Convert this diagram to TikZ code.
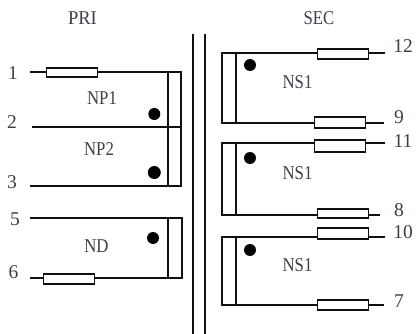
\documentclass[tikz,border=0pt]{standalone}
\usepackage{fontspec}
\setmainfont{Liberation Serif}
\definecolor{ink}{HTML}{111111}
\definecolor{txt}{HTML}{3A4048}
\tikzset{
  wire/.style={draw=ink,line width=1.45pt},
  corebar/.style={draw=ink,line width=1.5pt},
  res/.style={draw=ink,fill=white,line width=1.45pt,rectangle,inner sep=0pt,minimum width=50.5pt,minimum height=#1},
  res/.default=10pt,
  dotm/.style={circle,fill=black,inner sep=0pt,minimum size=12pt},
  lab/.style={text=txt,font=\fontsize{19.5}{20}\selectfont\addfontfeatures{FakeStretch=0.86},inner sep=0pt},
  pin/.style={text=txt,font=\fontsize{19.5}{20}\selectfont,inner sep=0pt}
}
\begin{document}
\begin{tikzpicture}[x=1pt,y=-1pt]
\useasboundingbox (0,0) rectangle (416,334);
% core
\coordinate (c1t) at (193,34); \coordinate (c1b) at (193,334);
\coordinate (c2t) at (205,34); \coordinate (c2b) at (205,334);
\draw[corebar] (c1t) -- (c1b);
\draw[corebar] (c2t) -- (c2b);
% --- primary ---
\coordinate (p1) at (30,72);  \coordinate (a1) at (168,72);  \coordinate (b1) at (181,72);
\coordinate (p2) at (32,127); \coordinate (a2) at (168,127); \coordinate (b2) at (181,127);
\coordinate (p3) at (30,186); \coordinate (a3) at (168,186); \coordinate (b3) at (181,186);
\draw[wire] (p1) -- (b1) -- (b3) -- (p3);
\draw[wire] (p2) -- (b2);
\draw[wire] (a1) -- (a3);
\node[res=9pt] (r1) at (72,72.5) {};
\coordinate (p5) at (30,218);  \coordinate (a5) at (168,218);  \coordinate (b5) at (182,218);
\coordinate (p6) at (30,278);  \coordinate (a6) at (168,278);  \coordinate (b6) at (182,278);
\draw[wire] (p5) -- (b5) -- (b6) -- (p6);
\draw[wire] (a5) -- (a6);
\node[res=10pt] (r6) at (69,279) {};
% --- secondary ---
\coordinate (s12) at (385,53); \coordinate (u1) at (222,53); \coordinate (v1) at (236,53);
\coordinate (s9) at (384,123); \coordinate (u2) at (222,123); \coordinate (v2) at (236,123);
\draw[wire] (s12) -- (u1) -- (u2) -- (s9);
\draw[wire] (v1) -- (v2);
\node[res=10pt] (r12) at (343,54) {};
\node[res=11pt] (r9) at (340,122.5) {};
\coordinate (s11) at (385,143); \coordinate (u3) at (222,143); \coordinate (v3) at (236,143);
\coordinate (s8) at (380,215); \coordinate (u4) at (222,215); \coordinate (v4) at (236,215);
\draw[wire] (s11) -- (u3) -- (u4) -- (s8);
\draw[wire] (v3) -- (v4);
\node[res=12pt] (r11) at (340,146) {};
\node[res=9pt] (r8) at (343,213.5) {};
\coordinate (s10) at (385,237); \coordinate (u5) at (222,237); \coordinate (v5) at (236,237);
\coordinate (s7) at (384,305); \coordinate (u6) at (222,305); \coordinate (v6) at (236,305);
\draw[wire] (s10) -- (u5) -- (u6) -- (s7);
\draw[wire] (v5) -- (v6);
\node[res=11pt] (r10) at (343,233.5) {};
\node[res=10pt] (r7) at (343,305) {};
% dots
\node[dotm] (d1) at (154.3,114) {};
\node[dotm,minimum height=13pt] (d2) at (154.3,172.5) {};
\node[dotm] (d3) at (153,238) {};
\node[dotm] (d4) at (250,65) {};
\node[dotm] (d5) at (250,158) {};
\node[dotm] (d6) at (250,250) {};
% texts
\node[lab,font=\fontsize{19.5}{20}\selectfont\addfontfeatures{FakeStretch=0.95}] (tp) at (82.5,18) {PRI};
\node[lab] (ts) at (319,18) {SEC};
\node[lab] (n1) at (102,98.5) {NP1};
\node[lab] (n2) at (99,149) {NP2};
\node[lab] (n3) at (96.5,246.5) {ND};
\node[lab] (n4) at (297.5,82) {NS1};
\node[lab] (n5) at (297.5,173.5) {NS1};
\node[lab] (n6) at (297.5,265) {NS1};
\node[pin] (l1) at (13,73) {1};
\node[pin] (l2) at (12,122) {2};
\node[pin] (l3) at (12,182) {3};
\node[pin] (l5) at (15,219) {5};
\node[pin] (l6) at (13.5,272) {6};
\node[pin] (l12) at (403,46) {12};
\node[pin] (l9) at (399,117) {9};
\node[pin] (l11) at (403,141) {11};
\node[pin] (l8) at (399,210) {8};
\node[pin] (l10) at (403,232) {10};
\node[pin] (l7) at (399,301) {7};
\end{tikzpicture}
\end{document}
